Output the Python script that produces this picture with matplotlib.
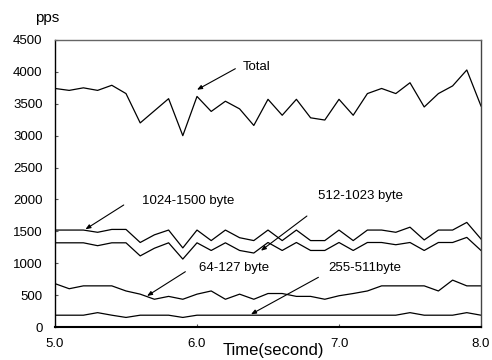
import matplotlib
matplotlib.use("Agg")
import matplotlib.pyplot as plt
import numpy as np

plt.rcParams['font.family'] = ['Liberation Sans', 'DejaVu Sans']

time = [5.0, 5.1, 5.2, 5.3, 5.4, 5.5, 5.6, 5.7, 5.8, 5.9,
        6.0, 6.1, 6.2, 6.3, 6.4, 6.5, 6.6, 6.7, 6.8, 6.9,
        7.0, 7.1, 7.2, 7.3, 7.4, 7.5, 7.6, 7.7, 7.8, 7.9, 8.0]

total = [3740, 3710, 3750, 3710, 3790, 3660, 3200, 3390, 3580, 3000,
         3615, 3380, 3540, 3420, 3160, 3570, 3320, 3570, 3280, 3245,
         3570, 3320, 3660, 3740, 3660, 3830, 3450, 3660, 3780, 4030, 3465]

b1024_1500 = [1520, 1520, 1520, 1485, 1530, 1530, 1325, 1445, 1520, 1240,
              1520, 1355, 1520, 1400, 1355, 1520, 1355, 1520, 1355, 1355,
              1520, 1355, 1520, 1520, 1485, 1565, 1365, 1520, 1520, 1640, 1380]

b512_1023 = [1320, 1320, 1320, 1275, 1320, 1320, 1115, 1235, 1320, 1065,
             1320, 1200, 1320, 1200, 1160, 1325, 1200, 1325, 1200, 1200,
             1325, 1200, 1325, 1325, 1290, 1325, 1200, 1325, 1325, 1405, 1200]

b64_127 = [680, 600, 645, 645, 645, 565, 515, 435, 480, 435,
           515, 565, 435, 515, 435, 525, 525, 480, 480, 435,
           490, 525, 565, 645, 645, 645, 645, 565, 735, 645, 645]

b255_511 = [185, 185, 185, 225, 185, 150, 185, 185, 185, 150,
            185, 185, 185, 185, 185, 185, 185, 185, 185, 185,
            185, 185, 185, 185, 185, 225, 185, 185, 185, 225, 185]

y_ticks = [0, 500, 1000, 1500, 2000, 2500, 3000, 3500, 4000, 4500]
x_ticks = [5.0, 6.0, 7.0, 8.0]
x_tick_labels = ['5.0', '6.0', '7.0', '8.0']

fig = plt.figure(figsize=(4.92, 3.6), dpi=100)
ax = fig.add_axes([55/492, 33/360, 426/492, 287/360])

for s in [total, b1024_1500, b512_1023, b64_127, b255_511]:
    ax.plot(time, s, color='black', lw=0.9)

ax.set_xlim(5.0, 8.0)
ax.set_ylim(0, 4500)
ax.set_yticks(y_ticks)
ax.set_yticklabels([str(v) for v in y_ticks], fontsize=9.5)
ax.set_xticks(x_ticks)
ax.set_xticklabels(x_tick_labels, fontsize=9.5)
ax.tick_params(axis='both', direction='in', length=2, width=0.8, color='#555555')
ax.tick_params(axis='y', pad=9)
ax.tick_params(axis='x', pad=8)

ax.spines['left'].set_color('black')
ax.spines['left'].set_linewidth(1.0)
ax.spines['bottom'].set_color('black')
ax.spines['bottom'].set_linewidth(1.5)
ax.spines['top'].set_color('#666666')
ax.spines['top'].set_linewidth(1.0)
ax.spines['right'].set_color('#444444')
ax.spines['right'].set_linewidth(1.0)

arrow_kw = dict(arrowstyle='-|>,head_length=0.3,head_width=0.12', color='black', lw=0.8,
                shrinkA=0, shrinkB=0)

# Total
ax.text(6.32, 4080, 'Total', fontsize=9.5, ha='left', va='center')
ax.annotate('', xy=(6.0, 3720), xytext=(6.27, 4050), arrowprops=arrow_kw)
# 1024-1500
ax.text(5.613, 1976, '1024-1500 byte', fontsize=9.5, ha='left', va='center')
ax.annotate('', xy=(5.214, 1532), xytext=(5.484, 1913), arrowprops=arrow_kw)
# 512-1023
ax.text(6.853, 2054, '512-1023 byte', fontsize=9.5, ha='left', va='center')
ax.annotate('', xy=(6.45, 1196), xytext=(6.774, 1740), arrowprops=arrow_kw)
# 64-127
ax.text(6.011, 925, '64-127 byte', fontsize=9.5, ha='left', va='center')
ax.annotate('', xy=(5.648, 486), xytext=(5.918, 867), arrowprops=arrow_kw)
# 255-511
ax.text(6.923, 925, '255-511byte', fontsize=9.5, ha='left', va='center')
ax.annotate('', xy=(6.38, 199), xytext=(6.855, 779), arrowprops=arrow_kw)

fig.text(47/492, 1 - 18/360, 'pps', fontsize=11, ha='center', va='center')
fig.text(273/492, 4.5/360, 'Time(second)', fontsize=12, ha='center', va='baseline')

fig.savefig('out.png', dpi=100)
